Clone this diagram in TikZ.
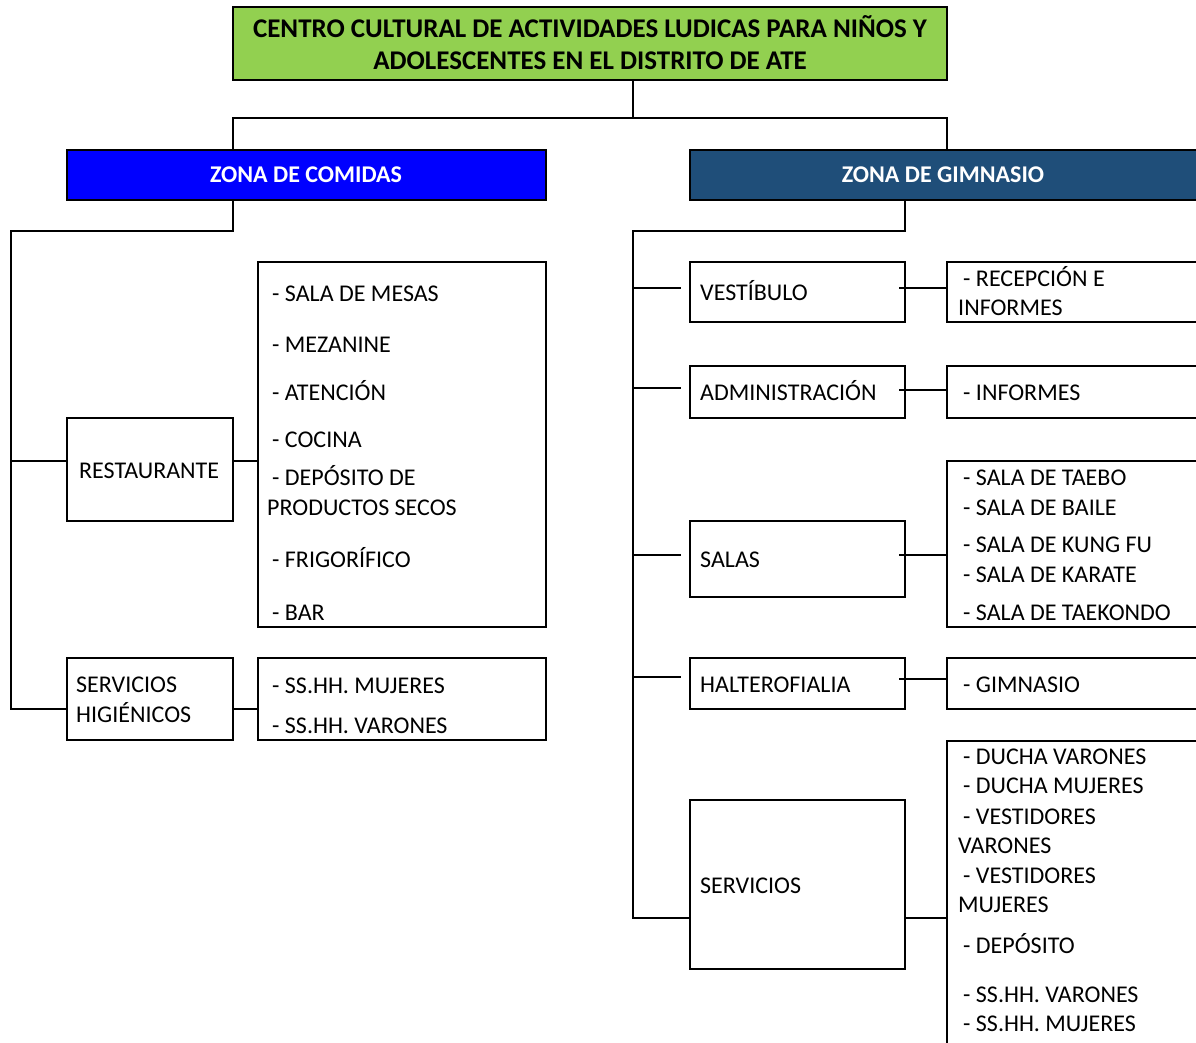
\documentclass[tikz,border=0pt]{standalone}
\usepackage{fontspec}
\setmainfont{Carlito}
\definecolor{titlegreen}{HTML}{92D050}
\definecolor{foodblue}{HTML}{0000FF}
\definecolor{gymblue}{HTML}{1F4E79}
\begin{document}
\begin{tikzpicture}[x=1pt,y=-1pt,
  box/.style={draw, line width=1.6pt, anchor=north west, inner sep=0pt, outer sep=0pt},
  lbl/.style={anchor=base west, inner sep=0pt, font=\fontsize{24}{28}\selectfont},
  head/.style={anchor=base, inner sep=0pt, font=\fontsize{27}{31}\selectfont\bfseries},
  zone/.style={anchor=base, inner sep=0pt, text=white, font=\fontsize{24}{28}\selectfont\bfseries},
  link/.style={line width=1.6pt}]
\useasboundingbox (0,0) rectangle (1196,1043);
\clip (0,0) rectangle (1196,1043);

% ---- header and zones ----
\node[box, fill=titlegreen, minimum width=714, minimum height=73] (title) at (233,7) {};
\node[head] (t1) at (590,37.5) {CENTRO CULTURAL DE ACTIVIDADES LUDICAS PARA NIÑOS Y};
\node[head] (t2) at (590,69.5) {ADOLESCENTES EN EL DISTRITO DE ATE};

\node[box, fill=foodblue, minimum width=479, minimum height=50] (zc) at (67,150) {};
\node[zone] (zct) at (306,183) {ZONA DE COMIDAS};
\node[box, fill=gymblue, minimum width=560, minimum height=50] (zg) at (690,150) {};
\node[zone] (zgt) at (943,183) {ZONA DE GIMNASIO};

\draw[link] (title.south -| 633,0) -- (633,118);
\draw[link] (zc.north -| 233,0) -- (233,118) -- (947,118) -- (zg.north -| 947,0);

% ---- zona de comidas ----
\node[box, minimum width=166, minimum height=103] (rest) at (67,418) {};
\node[lbl] at (79,478) {RESTAURANTE};
\node[box, minimum width=288, minimum height=365] (restd) at (258,262) {};
\node[lbl] at (272,301) {- SALA DE MESAS};
\node[lbl] at (272,352) {- MEZANINE};
\node[lbl] at (272,400) {- ATENCIÓN};
\node[lbl] at (272,447) {- COCINA};
\node[lbl] at (272,485) {- DEPÓSITO DE};
\node[lbl] at (267,515) {PRODUCTOS SECOS};
\node[lbl] at (272,567) {- FRIGORÍFICO};
\node[lbl] at (272,620) {- BAR};

\node[box, minimum width=166, minimum height=82] (sh) at (67,658) {};
\node[lbl] at (76,692) {SERVICIOS};
\node[lbl] at (76,722) {HIGIÉNICOS};
\node[box, minimum width=288, minimum height=82] (shd) at (258,658) {};
\node[lbl] at (272,693) {- SS.HH. MUJERES};
\node[lbl] at (272,733) {- SS.HH. VARONES};

\draw[link] (zc.south -| 233,0) -- (233,231) -- (11,231) -- (11,709) -- (sh.west |- 0,709);
\draw[link] (11,461) -- (rest.west |- 0,461);
\draw[link] (rest.east |- 0,461) -- (restd.west |- 0,461);
\draw[link] (sh.east |- 0,709) -- (shd.west |- 0,709);

% ---- zona de gimnasio ----
\node[box, minimum width=215, minimum height=60] (vest) at (690,262) {};
\node[lbl] at (700,300) {VESTÍBULO};
\node[box, minimum width=300, minimum height=60] (vestd) at (947,262) {};
\node[lbl] at (963,286) {- RECEPCIÓN E};
\node[lbl] at (958,315) {INFORMES};

\node[box, minimum width=215, minimum height=52] (adm) at (690,366) {};
\node[lbl] at (700,400) {ADMINISTRACIÓN};
\node[box, minimum width=300, minimum height=52] (admd) at (947,366) {};
\node[lbl] at (963,400) {- INFORMES};

\node[box, minimum width=215, minimum height=76] (sal) at (690,521) {};
\node[lbl] at (700,567) {SALAS};
\node[box, minimum width=300, minimum height=166] (sald) at (947,461) {};
\node[lbl] at (963,485) {- SALA DE TAEBO};
\node[lbl] at (963,515) {- SALA DE BAILE};
\node[lbl] at (963,552) {- SALA DE KUNG FU};
\node[lbl] at (963,582) {- SALA DE KARATE};
\node[lbl] at (963,620) {- SALA DE TAEKONDO};

\node[box, minimum width=215, minimum height=51] (hal) at (690,658) {};
\node[lbl] at (700,692) {HALTEROFIALIA};
\node[box, minimum width=300, minimum height=51] (hald) at (947,658) {};
\node[lbl] at (963,692) {- GIMNASIO};

\node[box, minimum width=215, minimum height=169] (ser) at (690,800) {};
\node[lbl] at (700,893) {SERVICIOS};
\node[box, minimum width=300, minimum height=400] (serd) at (947,741) {};
\node[lbl] at (963,764) {- DUCHA VARONES};
\node[lbl] at (963,793) {- DUCHA MUJERES};
\node[lbl] at (963,824) {- VESTIDORES};
\node[lbl] at (958,853) {VARONES};
\node[lbl] at (963,883) {- VESTIDORES};
\node[lbl] at (958,912) {MUJERES};
\node[lbl] at (963,953) {- DEPÓSITO};
\node[lbl] at (963,1002) {- SS.HH. VARONES};
\node[lbl] at (963,1031) {- SS.HH. MUJERES};

% trunk and branches
\coordinate (bv) at (681,288);
\coordinate (ba) at (681,388);
\coordinate (bs) at (681,555);
\coordinate (bh) at (681,677);
\draw[link] (zg.south -| 905,0) -- (905,231) -- (633,231) -- (633,918) -- (ser.west |- 0,918);
\draw[link] (633,288) -- (bv);
\draw[link] (633,388) -- (ba);
\draw[link] (633,555) -- (bs);
\draw[link] (633,677) -- (bh);
\draw[link] ([xshift=-6]vest.east |- 0,288) -- (vestd.west |- 0,288);
\draw[link] ([xshift=-6]adm.east |- 0,390) -- (admd.west |- 0,390);
\draw[link] ([xshift=-6]sal.east |- 0,555) -- (sald.west |- 0,555);
\draw[link] ([xshift=-6]hal.east |- 0,679) -- (hald.west |- 0,679);
\draw[link] (ser.east |- 0,918) -- (serd.west |- 0,918);
\end{tikzpicture}
\end{document}
